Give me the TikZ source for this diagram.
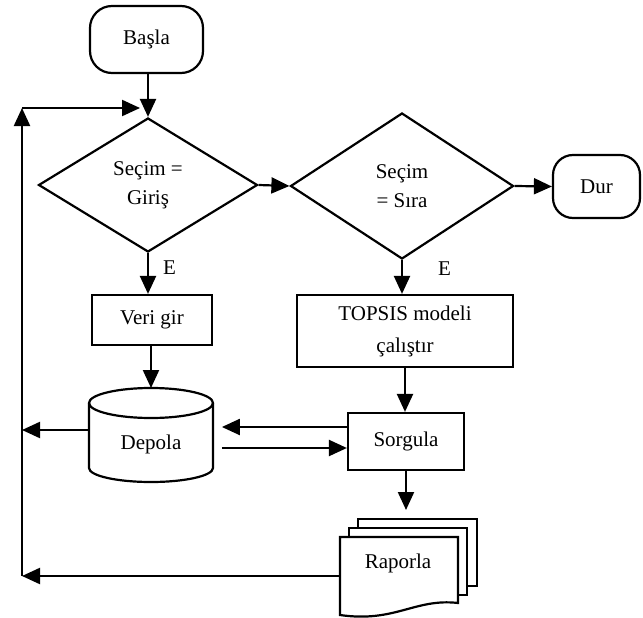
\documentclass[tikz,border=0pt]{standalone}
\usepackage{fontspec}
\setmainfont{Liberation Serif}
\usetikzlibrary{shapes.geometric,arrows.meta}
\newcommand{\fs}{\fontsize{21}{29}\selectfont}
\tikzset{
  base/.style={draw, line width=2.2pt, font=\fs, align=center, inner sep=0pt},
  term/.style={base, rectangle, rounded corners=22pt},
  proc/.style={base, rectangle},
  dec/.style={base, diamond},
  txt/.style={font=\fs, align=center, inner sep=0pt},
  arr/.style={line width=2.2pt, -{Triangle[length=18pt,width=16pt]}},
  ln/.style={line width=2.2pt},
  sheet/.style={line width=2.2pt, fill=white}
}
\begin{document}
\begin{tikzpicture}[x=1pt,y=1pt]
\useasboundingbox (0,0) rectangle (643,-618);
% nodes
\node[term, minimum width=113pt, minimum height=67pt] (basla) at (146.5,-39.5) {Başla};
\node[dec, minimum width=219pt, minimum height=134pt] (d1) at (148,-185) {Seçim =\\Giriş};
\node[dec, minimum width=223pt, minimum height=146pt] (d2) at (402,-186) {Seçim\\= Sıra};
\node[term, rounded corners=20pt, minimum width=87pt, minimum height=63pt] (dur) at (596.5,-186.5) {Dur};
\node[proc, minimum width=120pt, minimum height=50pt] (veri) at (152,-320) {Veri gir};
\node[proc, minimum width=216pt, minimum height=72pt, font=\fontsize{21}{32}\selectfont] (topsis) at (405,-331) {TOPSIS modeli\\çalıştır};
\node[proc, minimum width=116pt, minimum height=57pt] (sorgula) at (406,-441.5) {Sorgula};
% cylinder
\draw[ln] (89,-403) -- (89,-468) arc[start angle=180, end angle=360, x radius=62pt, y radius=14pt] -- (213,-403);
\draw[ln] (151,-403) ellipse[x radius=62pt, y radius=15pt];
\node[txt, minimum width=124pt, minimum height=64pt] (depola) at (151,-444) {Depola};
\coordinate (deptop) at (151,-388);
\coordinate (depw) at (89,-430);
% multi-document
\draw[sheet] (358,-519) rectangle (477,-586);
\draw[sheet] (349,-528) rectangle (467,-595);
\draw[sheet] (340,-537) -- (458,-537) -- (458,-603) .. controls (415,-598) and (395,-623) .. (340,-615) -- cycle;
\node[txt] (rap) at (398,-563) {Raporla};
\coordinate (raptop) at (406,-510);
\coordinate (rapw) at (340,-576);
% left loop coordinates
\coordinate (lb) at (22,-576);
\coordinate (lm) at (22,-430);
\coordinate (lt) at (22,-108);
\coordinate (jn) at (140,-108);
% connectors
\draw[arr] (basla.south -| d1.north) -- (d1.north);
\draw[arr] (d1.east) -- (d2.west);
\draw[arr] (d2.east) -- (dur.west);
\draw[arr] (d1.south) -- (d1.south |- veri.north) node[txt, pos=0.35, right=14pt] (e1) {E};
\draw[arr] (d2.south) -- (d2.south |- topsis.north) node[txt, pos=0.25, right=35pt] (e2) {E};
\draw[arr] (veri.south -| deptop) -- (deptop);
\draw[arr] (topsis.south) -- (topsis.south |- sorgula.north);
\draw[arr] ([yshift=14.5pt]sorgula.west) -- ++(-125pt,0);
\draw[arr] ([yshift=-6.5pt]sorgula.west) ++(-125pt,0) -- ([yshift=-6.5pt]sorgula.west);
\draw[arr] (sorgula.south) -- (raptop);
\draw[arr] (depw) -- (lm);
\draw[arr] (rapw) -- (lb);
\draw[arr] (lb) -- (lt);
\draw[arr] (lt) -- (jn);
\end{tikzpicture}
\end{document}
